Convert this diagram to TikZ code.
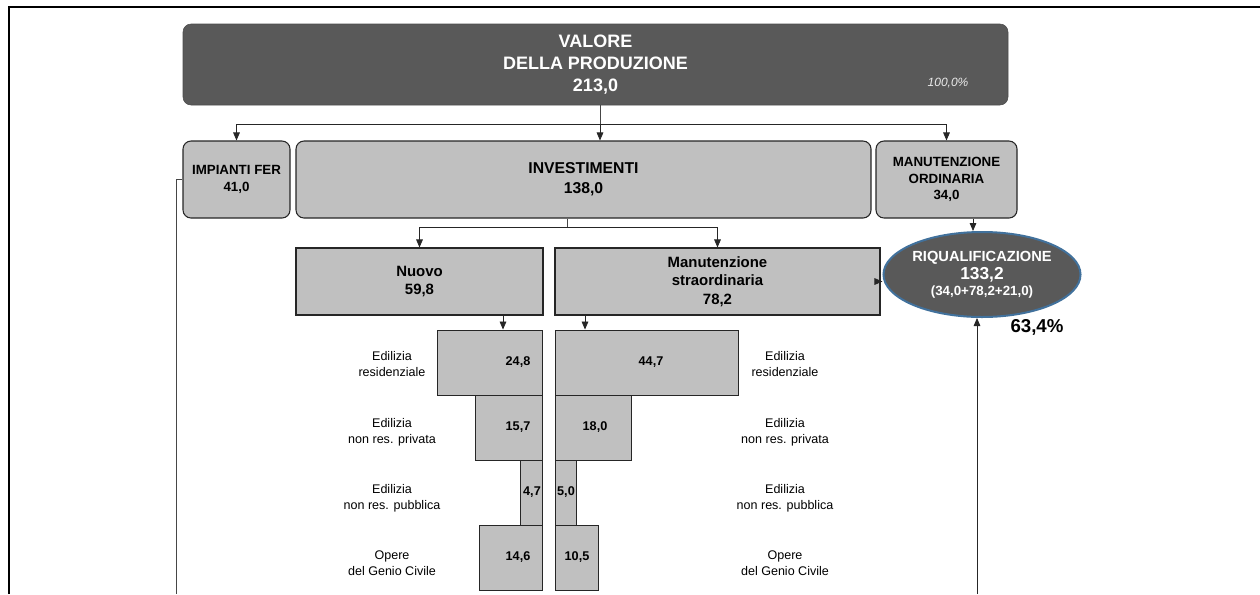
\documentclass[tikz,border=0pt]{standalone}
\usepackage{fontspec}
\setmainfont{Liberation Sans}
\usetikzlibrary{arrows.meta, shapes.geometric, positioning}
\definecolor{darkbox}{RGB}{89,89,89}
\definecolor{lightbox}{RGB}{192,192,192}
\definecolor{ringblue}{RGB}{65,113,156}
\definecolor{linegray}{RGB}{70,70,70}

\begin{document}
\begin{tikzpicture}[x=0.75pt, y=-0.75pt,
  every node/.style={inner sep=0pt, align=center},
  topbox/.style={draw=black!70, fill=darkbox, rounded corners=6pt, text=white,
                 font=\bfseries\fontsize{13.5}{16.3}\selectfont},
  rbox/.style={draw=black!85, fill=lightbox, rounded corners=6pt, line width=0.8pt},
  sbox/.style={draw=black!85, fill=lightbox, line width=0.8pt,
               font=\bfseries\fontsize{11.2}{13.8}\selectfont},
  bar/.style={draw=black!85, fill=lightbox, line width=0.7pt, minimum height=48.75pt},
  barval/.style={font=\bfseries\fontsize{9.5}{11}\selectfont},
  cat/.style={font=\fontsize{9.4}{12}\selectfont},
  arr/.style={-{Triangle[length=6pt,width=5pt]}, draw=black!85, line width=0.6pt},
  link/.style={draw=linegray, line width=0.6pt}
]
  \useasboundingbox (0,0) rectangle (1260,594);
  % frame
  \draw[line width=1.8pt] (9,594) -- (9,7) -- (1260,7);

  % top level
  \node[topbox, minimum width=618.75pt, minimum height=60.75pt] (valore) at (595.5,64.5)
       {VALORE\\DELLA PRODUZIONE\\213,0};
  \node[font=\itshape\fontsize{9}{10}\selectfont, text=black!8] (quota) at (948,83) {100,0\%};

  \node[rbox, minimum width=80.25pt, minimum height=57.75pt,
        font=\bfseries\fontsize{10}{12.75}\selectfont] (fer) at (236.5,179.5) {IMPIANTI FER\\41,0};
  \node[rbox, minimum width=431.25pt, minimum height=57.75pt,
        font=\bfseries\fontsize{11.8}{15}\selectfont] (inv) at (583.5,179.5) {INVESTIMENTI\\138,0};
  \node[rbox, minimum width=105.75pt, minimum height=57.75pt,
        font=\bfseries\fontsize{10}{12.4}\selectfont] (mord) at (946.5,179.5) {MANUTENZIONE\\ORDINARIA\\34,0};

  % second level
  \node[sbox, minimum width=185.25pt, minimum height=50.25pt] (nuovo) at (419.5,281.5) {Nuovo\\59,8};
  \node[sbox, minimum width=243.75pt, minimum height=50.25pt] (mstra) at (717.5,281.5)
       {Manutenzione\\straordinaria\\78,2};
  \node[ellipse, draw=ringblue, line width=1.5pt, fill=darkbox, minimum width=130.5pt,
        minimum height=63.75pt, text=white, font=\bfseries] (riq) at (982,274.5)
       {\fontsize{11}{13}\selectfont RIQUALIFICAZIONE\\[2pt]
        \fontsize{13}{13}\selectfont 133,2\\[-0.5pt]
        \fontsize{10}{13}\selectfont (34,0+78,2+21,0)};
  \node[font=\bfseries\fontsize{14}{16}\selectfont] (pct) at (1037,327) {63,4\%};

  % bars, nuovo
  \node[bar, minimum width=78.75pt, anchor=east] (nres) at (543,362.5) {};
  \node[bar, minimum width=50.25pt, anchor=east] (npriv) at (543,427.5) {};
  \node[bar, minimum width=16.5pt, anchor=east] (npub) at (543,492.5) {};
  \node[bar, minimum width=47.25pt, anchor=east] (ngen) at (543,557.5) {};
  % bars, manutenzione straordinaria
  \node[bar, minimum width=137.25pt, anchor=west] (mres) at (555,362.5) {};
  \node[bar, minimum width=57pt, anchor=west] (mpriv) at (555,427.5) {};
  \node[bar, minimum width=15.75pt, anchor=west] (mpub) at (555,492.5) {};
  \node[bar, minimum width=32.25pt, anchor=west] (mgen) at (555,557.5) {};

  \node[barval] (vnres) at (518,362.5) {24,8};
  \node[barval] (vnpriv) at (518,427.5) {15,7};
  \node[barval] (vnpub) at (532,492.5) {4,7};
  \node[barval] (vngen) at (518,557.5) {14,6};
  \node[barval] (vmres) at (651,362.5) {44,7};
  \node[barval] (vmpriv) at (595,427.5) {18,0};
  \node[barval] (vmpub) at (566,492.5) {5,0};
  \node[barval] (vmgen) at (577,557.5) {10,5};

  \node[cat] (lres) at (392,364) {Edilizia\\residenziale};
  \node[cat] (lpriv) at (392,432) {Edilizia\\non res. privata};
  \node[cat] (lpub) at (392,498) {Edilizia\\non res. pubblica};
  \node[cat] (lgen) at (392,563) {Opere\\del Genio Civile};
  \node[cat] (rres) at (785,364) {Edilizia\\residenziale};
  \node[cat] (rpriv) at (785,432) {Edilizia\\non res. privata};
  \node[cat] (rpub) at (785,498) {Edilizia\\non res. pubblica};
  \node[cat] (rgen) at (785,563) {Opere\\del Genio Civile};

  % connectors
  \coordinate (hub1) at (600,124);
  \coordinate (hub2) at (567,227);
  \coordinate (drop1) at (503,0);
  \coordinate (drop2) at (585,0);
  \coordinate (drop3) at (973,0);
  \coordinate (ferend) at (176,594);
  \coordinate (riqsrc) at (977,594);

  \draw[link] (valore.south -| hub1) -- (hub1);
  \draw[arr] (hub1) -| (fer.north);
  \draw[arr] (hub1) -| (mord.north);
  \draw[arr] (hub1) -- (hub1 |- inv.north);
  \draw[link] (inv.south -| hub2) -- (hub2);
  \draw[arr] (hub2) -| (nuovo.north);
  \draw[arr] (hub2) -| (mstra.north);
  \draw[arr] (mstra.east) -- (mstra.east -| riq.west);
  \draw[arr] (mord.south -| drop3) -- (riq.north -| drop3);
  \draw[arr] (nuovo.south -| drop1) -- (nres.north -| drop1);
  \draw[arr] (mstra.south -| drop2) -- (mres.north -| drop2);
  \draw[link] (fer.west) -- (fer.west -| ferend) -- (ferend);
  \draw[arr] (riqsrc) -- (riqsrc |- riq.south);
\end{tikzpicture}
\end{document}
